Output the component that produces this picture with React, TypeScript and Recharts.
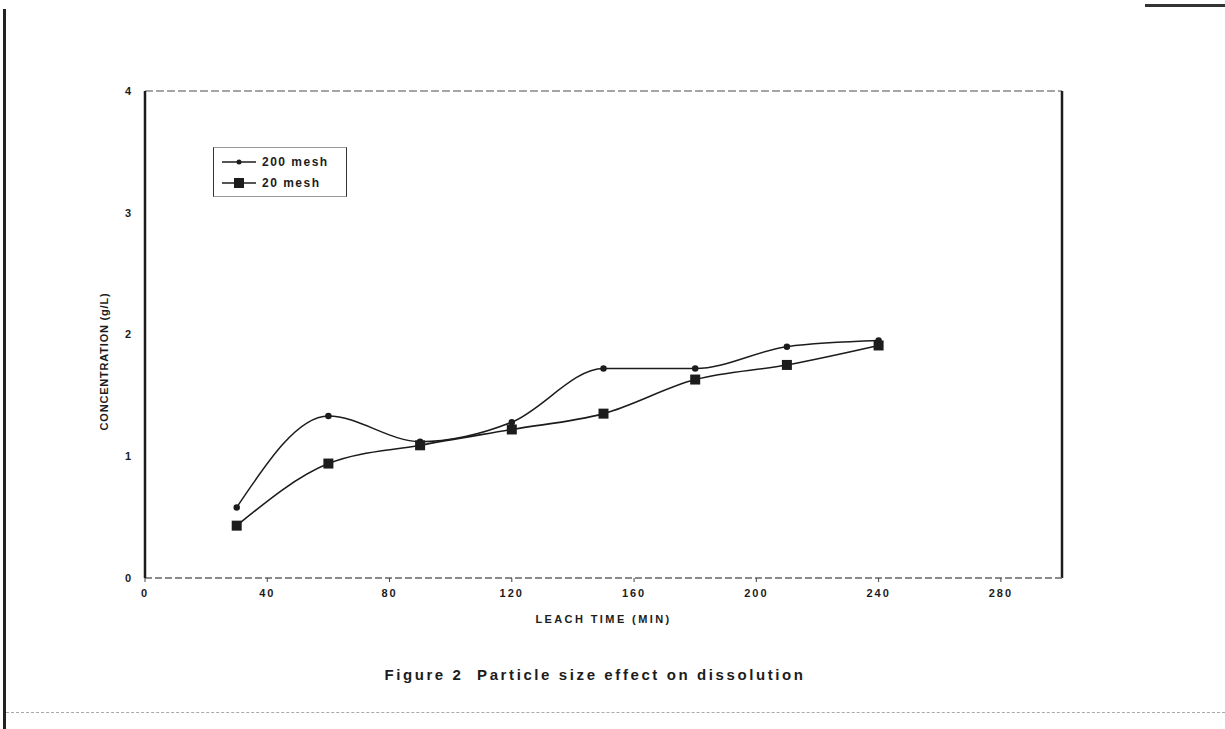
import {
  LineChart,
  Line,
  XAxis,
  YAxis,
  Label,
  ReferenceLine,
} from "recharts";

const leachTime = [30, 60, 90, 120, 150, 180, 210, 240];
const mesh200 = [0.58, 1.33, 1.12, 1.28, 1.72, 1.72, 1.9, 1.95];
const mesh20 = [0.43, 0.94, 1.09, 1.22, 1.35, 1.63, 1.75, 1.91];
const xTicks = [0, 40, 80, 120, 160, 200, 240, 280];
const yTicks = [0, 1, 2, 3, 4];

const data = leachTime.map((t, i) => ({
  time: t,
  m200: mesh200[i],
  m20: mesh20[i],
}));

const FONT = "'Liberation Sans', Arial, sans-serif";
const INK = "#1c1c1c";

const SquareDot = (props: any) => {
  const { cx, cy } = props;
  if (cx == null || cy == null) return null;
  return <rect x={cx - 5} y={cy - 5} width={10} height={10} fill={INK} />;
};

// legend drawn as a plain box so it takes no room from the plot
const LegendBox = () => (
  <div
    style={{
      position: "absolute",
      left: 213,
      top: 147,
      border: "1.5px solid #333",
      borderTopColor: "#999",
      borderBottomColor: "#999",
      padding: "3px 8px 3px 8px",
      fontFamily: FONT,
      fontWeight: "bold",
      fontSize: 12,
      letterSpacing: 1.5,
      color: INK,
      width: 116,
    }}
  >
    <div style={{ display: "flex", alignItems: "center", height: 21 }}>
      <svg width={34} height={10} style={{ marginRight: 6 }}>
        <line x1={0} y1={5} x2={34} y2={5} stroke={INK} strokeWidth={1.5} />
        <circle cx={17} cy={5} r={2.5} fill={INK} />
      </svg>
      200 mesh
    </div>
    <div style={{ display: "flex", alignItems: "center", height: 21 }}>
      <svg width={34} height={10} style={{ marginRight: 6 }}>
        <line x1={0} y1={5} x2={34} y2={5} stroke={INK} strokeWidth={1.5} />
        <rect x={12} y={0} width={10} height={10} fill={INK} />
      </svg>
      20 mesh
    </div>
  </div>
);

const YTitle = (props: any) => {
  const { viewBox } = props;
  const x = viewBox.x - 1;
  const y = viewBox.y + viewBox.height / 2 + 27;
  return (
    <text
      x={x}
      y={y}
      transform={`rotate(-90 ${x} ${y})`}
      textAnchor="middle"
      dominantBaseline="central"
      fontFamily={FONT}
      fontWeight="bold"
      fontSize={11}
      letterSpacing={0.8}
      fill={INK}
    >
      CONCENTRATION (g/L)
    </text>
  );
};

export default function App() {
  return (
    <div
      style={{
        position: "relative",
        width: 1225,
        height: 729,
        background: "#fff",
        overflow: "hidden",
      }}
    >
      <style>{`body{margin:0}`}</style>
      {/* edges of the scanned page */}
      <div style={{ position: "absolute", left: 3, top: 9, width: 3, height: 720, background: "#222" }} />
      <div style={{ position: "absolute", left: 6, top: 712, width: 1219, height: 0, borderTop: "1px dashed #aaa" }} />
      <div style={{ position: "absolute", left: 1145, top: 4, width: 80, height: 3, background: "#333" }} />

      <LineChart
        width={1225}
        height={729}
        data={data}
        margin={{ top: 91, right: 163, bottom: 106, left: 105 }}
        style={{ position: "absolute", left: 0, top: 0 }}
      >
        <XAxis
          dataKey="time"
          type="number"
          domain={[0, 300]}
          ticks={xTicks}
          height={45}
          tickSize={4}
          tickMargin={7}
          axisLine={{ stroke: "#666", strokeWidth: 1.5, strokeDasharray: "7 3" }}
          tickLine={{ stroke: "#444" }}
          tick={{ fontFamily: FONT, fontWeight: "bold", fontSize: 11, letterSpacing: 2, fill: INK }}
        >
          <Label
            value="LEACH TIME (MIN)"
            position="insideBottom"
            offset={0}
            style={{ fontFamily: FONT, fontWeight: "bold", fontSize: 11, letterSpacing: 2.4, fill: INK }}
          />
        </XAxis>
        <YAxis
          type="number"
          domain={[0, 4]}
          ticks={yTicks}
          width={40}
          tickSize={0}
          tickMargin={14}
          axisLine={{ stroke: INK, strokeWidth: 2.5 }}
          tick={{ fontFamily: FONT, fontWeight: "bold", fontSize: 11, fill: INK }}
        >
          <Label content={YTitle} />
        </YAxis>
        <ReferenceLine y={4} stroke="#888" strokeWidth={1.5} strokeDasharray="8 3" />
        <ReferenceLine x={300} stroke={INK} strokeWidth={2.5} />
        <Line
          type="monotone"
          dataKey="m200"
          name="200 mesh"
          stroke={INK}
          strokeWidth={1.5}
          dot={{ r: 2.5, fill: INK, stroke: INK }}
          isAnimationActive={false}
        />
        <Line
          type="monotone"
          dataKey="m20"
          name="20 mesh"
          stroke={INK}
          strokeWidth={1.6}
          dot={SquareDot}
          isAnimationActive={false}
        />
      </LineChart>

      <LegendBox />

      <div
        style={{
          position: "absolute",
          left: 0,
          top: 666,
          width: 1190,
          textAlign: "center",
          fontFamily: FONT,
          fontWeight: "bold",
          fontSize: 15,
          letterSpacing: 2.6,
          color: INK,
          whiteSpace: "pre",
        }}
      >
        {"Figure 2  Particle size effect on dissolution"}
      </div>
    </div>
  );
}
